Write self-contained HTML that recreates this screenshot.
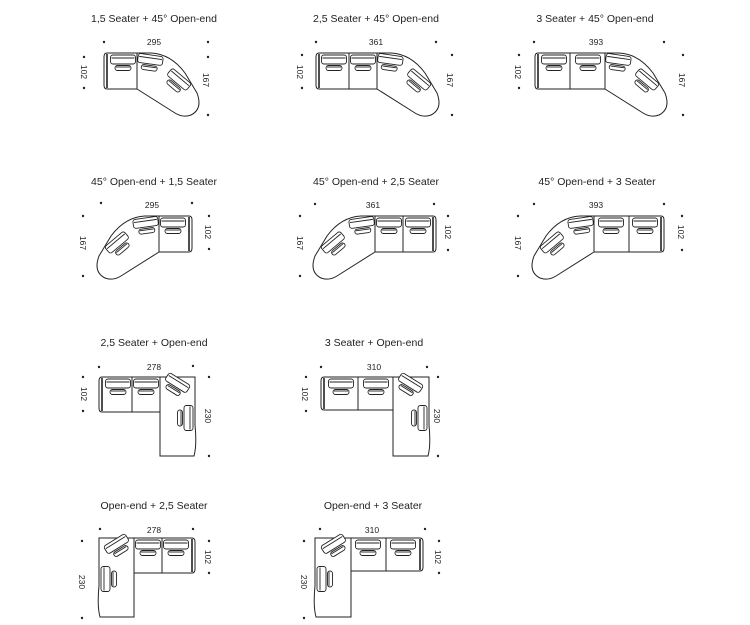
<!DOCTYPE html>
<html><head><meta charset="utf-8"><style>
html,body{margin:0;padding:0;background:#fff;width:750px;height:625px;overflow:hidden}
svg{display:block}
text{font-family:"Liberation Sans",sans-serif;fill:#222}
.t{font-size:10.5px}
.d{font-size:8.5px}
</style></head><body>
<svg width="750" height="625" viewBox="0 0 750 625" xmlns="http://www.w3.org/2000/svg">
<defs>
<g id="c" fill="#fff" stroke="#222" stroke-width="0.9">
<rect x="-12.5" y="0" width="25" height="9" rx="2.5"/>
<line x1="-11.5" y1="3" x2="11.5" y2="3"/>
<rect x="-8" y="10.5" width="16" height="5" rx="2.5"/>
<line x1="-7" y1="12" x2="7" y2="12"/>
</g>
<g id="corner" fill="none" stroke="#222" stroke-width="1">
<path d="M0,0 L14,0 Q34,1 48,20 L60,40 Q66,56 54,62 Q46,65 38,60 L0,36"/>
<use href="#c" transform="translate(14,2) rotate(8)"/>
<use href="#c" transform="translate(45,23) rotate(40)"/>
</g>
<g id="p1" fill="none" stroke="#222" stroke-width="1">
<path d="M137,53 L107,53 Q104,53 104,57 L104,85 Q104,89 107,89 L137,89"/>
<line x1="107" y1="54" x2="107" y2="88" stroke-width="1.6"/>
<line x1="137" y1="53" x2="137" y2="89"/>
<use href="#c" transform="translate(123,55)"/>
<use href="#corner" transform="translate(137,53)"/>
</g>
<g id="p2" fill="none" stroke="#222" stroke-width="1">
<path d="M377,53 L319,53 Q316,53 316,57 L316,85 Q316,89 319,89 L377,89"/>
<line x1="319" y1="54" x2="319" y2="88" stroke-width="1.6"/>
<line x1="349" y1="53" x2="349" y2="89"/>
<line x1="377" y1="53" x2="377" y2="89"/>
<use href="#c" transform="translate(334,55)"/>
<use href="#c" transform="translate(363,55)"/>
<use href="#corner" transform="translate(377,53)"/>
</g>
<g id="p3" fill="none" stroke="#222" stroke-width="1">
<path d="M605,53 L538,53 Q535,53 535,57 L535,85 Q535,89 538,89 L605,89"/>
<line x1="538" y1="54" x2="538" y2="88" stroke-width="1.6"/>
<line x1="570" y1="53" x2="570" y2="89"/>
<line x1="605" y1="53" x2="605" y2="89"/>
<use href="#c" transform="translate(554,55)"/>
<use href="#c" transform="translate(588,55)"/>
<use href="#corner" transform="translate(605,53)"/>
</g>
<g id="l1" fill="none" stroke="#222" stroke-width="1">
<path d="M102,377 L195,377 L195,425 Q197,445 194,456 L160,456 L160,412 L102,412 Q99,412 99,408 L99,381 Q99,377 102,377 Z"/>
<line x1="102" y1="378" x2="102" y2="411" stroke-width="1.6"/>
<line x1="132" y1="377" x2="132" y2="412"/>
<line x1="160" y1="377" x2="160" y2="412"/>
<use href="#c" transform="translate(118,379)"/>
<use href="#c" transform="translate(146,379)"/>
<use href="#c" transform="translate(180,379) rotate(32)"/>
<use href="#c" transform="translate(193,418) rotate(90)"/>
</g>
<g id="l2" fill="none" stroke="#222" stroke-width="1">
<path d="M324,377 L429,377 L429,425 Q431,445 428,456 L393,456 L393,410 L324,410 Q321,410 321,406 L321,381 Q321,377 324,377 Z"/>
<line x1="324" y1="378" x2="324" y2="409" stroke-width="1.6"/>
<line x1="358" y1="377" x2="358" y2="410"/>
<line x1="393" y1="377" x2="393" y2="410"/>
<use href="#c" transform="translate(341,379)"/>
<use href="#c" transform="translate(376,379)"/>
<use href="#c" transform="translate(413,379) rotate(32)"/>
<use href="#c" transform="translate(427,418) rotate(90)"/>
</g>
</defs>

<use href="#p1"/><use href="#p2"/><use href="#p3"/>
<use href="#p1" transform="translate(296,163) scale(-1,1)"/>
<use href="#p2" transform="translate(752,163) scale(-1,1)"/>
<use href="#p3" transform="translate(1199,163) scale(-1,1)"/>
<use href="#l1"/><use href="#l2"/>
<use href="#l1" transform="translate(294,161) scale(-1,1)"/>
<use href="#l2" transform="translate(744,161) scale(-1,1)"/>

<g text-anchor="middle">
<text class="t" x="154" y="22">1,5 Seater + 45° Open-end</text>
<text class="t" x="376" y="22">2,5 Seater + 45° Open-end</text>
<text class="t" x="595" y="22">3 Seater + 45° Open-end</text>
<text class="t" x="154" y="185">45° Open-end + 1,5 Seater</text>
<text class="t" x="376" y="185">45° Open-end + 2,5 Seater</text>
<text class="t" x="597" y="185">45° Open-end + 3 Seater</text>
<text class="t" x="154" y="346">2,5 Seater + Open-end</text>
<text class="t" x="374" y="346">3 Seater + Open-end</text>
<text class="t" x="154" y="509">Open-end + 2,5 Seater</text>
<text class="t" x="373" y="509">Open-end + 3 Seater</text>

<text class="d" x="154" y="45">295</text>
<text class="d" x="376" y="45">361</text>
<text class="d" x="596" y="45">393</text>
<text class="d" x="152" y="208">295</text>
<text class="d" x="373" y="208">361</text>
<text class="d" x="596" y="208">393</text>
<text class="d" x="154" y="370">278</text>
<text class="d" x="374" y="370">310</text>
<text class="d" x="154" y="533">278</text>
<text class="d" x="372" y="533">310</text>

<text class="d" transform="translate(81,72) rotate(90)">102</text>
<text class="d" transform="translate(203,80) rotate(90)">167</text>
<text class="d" transform="translate(297,72) rotate(90)">102</text>
<text class="d" transform="translate(447,80) rotate(90)">167</text>
<text class="d" transform="translate(515,72) rotate(90)">102</text>
<text class="d" transform="translate(679,80) rotate(90)">167</text>

<text class="d" transform="translate(80,243) rotate(90)">167</text>
<text class="d" transform="translate(205,232) rotate(90)">102</text>
<text class="d" transform="translate(297,243) rotate(90)">167</text>
<text class="d" transform="translate(445,232) rotate(90)">102</text>
<text class="d" transform="translate(515,243) rotate(90)">167</text>
<text class="d" transform="translate(678,232) rotate(90)">102</text>

<text class="d" transform="translate(81,394) rotate(90)">102</text>
<text class="d" transform="translate(205,416) rotate(90)">230</text>
<text class="d" transform="translate(302,394) rotate(90)">102</text>
<text class="d" transform="translate(434,416) rotate(90)">230</text>

<text class="d" transform="translate(79,582) rotate(90)">230</text>
<text class="d" transform="translate(205,557) rotate(90)">102</text>
<text class="d" transform="translate(301,582) rotate(90)">230</text>
<text class="d" transform="translate(435,557) rotate(90)">102</text>
</g>

<g fill="#222">
<circle cx="104" cy="42" r="1.2"/><circle cx="208" cy="42" r="1.2"/>
<circle cx="84" cy="57" r="1.2"/><circle cx="84" cy="88" r="1.2"/>
<circle cx="208" cy="57" r="1.2"/><circle cx="208" cy="115" r="1.2"/>
<circle cx="316" cy="42" r="1.2"/><circle cx="436" cy="42" r="1.2"/>
<circle cx="302" cy="55" r="1.2"/><circle cx="302" cy="88" r="1.2"/>
<circle cx="452" cy="55" r="1.2"/><circle cx="452" cy="115" r="1.2"/>
<circle cx="534" cy="42" r="1.2"/><circle cx="664" cy="42" r="1.2"/>
<circle cx="519" cy="55" r="1.2"/><circle cx="519" cy="88" r="1.2"/>
<circle cx="683" cy="55" r="1.2"/><circle cx="683" cy="115" r="1.2"/>

<circle cx="101" cy="203" r="1.2"/><circle cx="192" cy="203" r="1.2"/>
<circle cx="83" cy="216" r="1.2"/><circle cx="83" cy="276" r="1.2"/>
<circle cx="209" cy="216" r="1.2"/><circle cx="209" cy="249" r="1.2"/>
<circle cx="315" cy="204" r="1.2"/><circle cx="434" cy="204" r="1.2"/>
<circle cx="300" cy="216" r="1.2"/><circle cx="300" cy="276" r="1.2"/>
<circle cx="448" cy="216" r="1.2"/><circle cx="448" cy="250" r="1.2"/>
<circle cx="534" cy="204" r="1.2"/><circle cx="664" cy="204" r="1.2"/>
<circle cx="518" cy="216" r="1.2"/><circle cx="518" cy="276" r="1.2"/>
<circle cx="682" cy="216" r="1.2"/><circle cx="682" cy="250" r="1.2"/>

<circle cx="99" cy="367" r="1.2"/><circle cx="193" cy="366" r="1.2"/>
<circle cx="83" cy="377" r="1.2"/><circle cx="83" cy="411" r="1.2"/>
<circle cx="209" cy="377" r="1.2"/><circle cx="209" cy="456" r="1.2"/>
<circle cx="321" cy="367" r="1.2"/><circle cx="427" cy="367" r="1.2"/>
<circle cx="306" cy="377" r="1.2"/><circle cx="306" cy="411" r="1.2"/>
<circle cx="438" cy="377" r="1.2"/><circle cx="438" cy="456" r="1.2"/>

<circle cx="100" cy="529" r="1.2"/><circle cx="193" cy="529" r="1.2"/>
<circle cx="82" cy="541" r="1.2"/><circle cx="82" cy="618" r="1.2"/>
<circle cx="209" cy="541" r="1.2"/><circle cx="209" cy="573" r="1.2"/>
<circle cx="320" cy="529" r="1.2"/><circle cx="425" cy="529" r="1.2"/>
<circle cx="304" cy="541" r="1.2"/><circle cx="304" cy="618" r="1.2"/>
<circle cx="439" cy="541" r="1.2"/><circle cx="439" cy="573" r="1.2"/>
</g>
</svg>
</body></html>
